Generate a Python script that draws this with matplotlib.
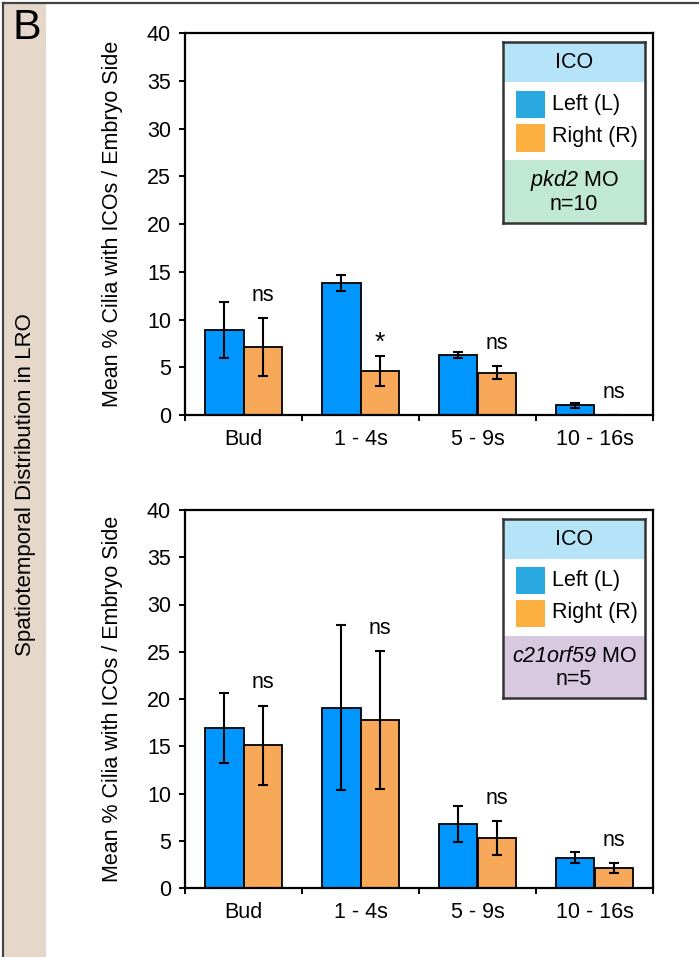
import numpy as np
import matplotlib
matplotlib.use('Agg')
import matplotlib.pyplot as plt
from matplotlib.patches import Rectangle
from matplotlib.lines import Line2D

plt.rcParams['font.family'] = ['Liberation Sans', 'DejaVu Sans']
# italic gene names: mathrm mapped to the italic face so digits slant too
plt.rcParams['mathtext.fontset'] = 'custom'
plt.rcParams['mathtext.rm'] = 'Liberation Sans:italic'
plt.rcParams['mathtext.it'] = 'Liberation Sans:italic'

# data
categories = ['Bud', '1 - 4s', '5 - 9s', '10 - 16s']

pkd2_left = [8.9, 13.8, 6.25, 1.0]
pkd2_left_err = [2.95, 0.85, 0.3, 0.3]
pkd2_right = [7.1, 4.6, 4.45, 0.0]
pkd2_right_err = [3.05, 1.6, 0.65, 0.0]
pkd2_sig = ['ns', '*', 'ns', 'ns']

c21_left = [16.9, 19.1, 6.8, 3.2]
c21_left_err = [3.7, 8.7, 1.9, 0.6]
c21_right = [15.1, 17.8, 5.3, 2.1]
c21_right_err = [4.2, 7.3, 1.8, 0.5]
c21_sig = ['ns', 'ns', 'ns', 'ns']

yticks = [0, 5, 10, 15, 20, 25, 30, 35, 40]

# colours
BAR_BLUE = '#0096FF'
BAR_ORANGE = '#F7A859'
LEG_BLUE = '#29A9E0'
LEG_ORANGE = '#FBB040'
HEAD = '#B5E4F8'
GREEN = '#C0E8D5'
PURPLE = '#D8C8E0'
BAND = '#E5D8CA'

FS = 15.5

W, H = 699, 957
fig = plt.figure(figsize=(W / 100, H / 100), dpi=100)

# left band + frame
fig.add_artist(Rectangle((4 / W, 0), 42 / W, 1 - 4 / H, transform=fig.transFigure,
                         facecolor=BAND, edgecolor='none', zorder=0))
fig.add_artist(Line2D([3 / W, 3 / W], [0, 1 - 3 / H], transform=fig.transFigure,
                      color='#444444', lw=1.6))
fig.add_artist(Line2D([3 / W, 1], [1 - 3 / H, 1 - 3 / H], transform=fig.transFigure,
                      color='#444444', lw=1.6))
fig.text(26 / W, 1 - 485 / H, 'Spatiotemporal Distribution in LRO', rotation=90,
         ha='center', va='center', fontsize=16)
fig.text(12 / W, 1 - 28 / H, 'B', ha='left', va='center', fontsize=31)


def panel(ax, left, left_err, right, right_err, sig, label_text, label_color):
    x = np.arange(len(categories))
    bw = 0.325
    ax.bar(x - bw / 2, left, bw, color=BAR_BLUE, edgecolor='black', linewidth=1.3, zorder=2)
    ax.bar(x + bw / 2, right, bw, color=BAR_ORANGE, edgecolor='black', linewidth=1.3, zorder=2)
    ax.errorbar(x - bw / 2, left, yerr=left_err, fmt='none', ecolor='black',
                elinewidth=1.5, capsize=3.5, capthick=1.5, zorder=3)
    ax.errorbar(x + bw / 2, right, yerr=right_err, fmt='none', ecolor='black',
                elinewidth=1.5, capsize=3.5, capthick=1.5, zorder=3)
    offs = {'ns': 2.4, '*': 1.4}
    for i, s in enumerate(sig):
        ax.text(x[i] + bw / 2, right[i] + right_err[i] + offs[s], s,
                ha='center', va='center', fontsize=FS if s == 'ns' else 19)

    ax.set_xlim(-0.5, len(categories) - 0.5)
    ax.set_ylim(0, 40)
    ax.set_yticks(yticks)
    ax.set_xticks(np.arange(len(categories) + 1) - 0.5)
    ax.set_xticklabels([])
    ax.set_xticks(x, minor=True)
    ax.set_xticklabels(categories, minor=True)
    ax.tick_params(axis='both', which='major', direction='out', length=4, width=1.4,
                   labelsize=FS, pad=6)
    ax.tick_params(axis='x', which='minor', length=0, labelsize=FS, pad=10)
    for sp in ax.spines.values():
        sp.set_linewidth(1.6)
    ax.set_ylabel('Mean % Cilia with ICOs / Embryo Side', fontsize=FS, va='center')
    ax.yaxis.set_label_coords(-0.154, 0.5)

    # legend box
    lg = ax.inset_axes([0.6795, 0.5035, 0.3035, 0.472])
    lg.set_xlim(0, 1)
    lg.set_ylim(0, 1)
    lg.set_xticks([])
    lg.set_yticks([])
    lg.add_patch(Rectangle((0, 0.78), 1, 0.22, facecolor=HEAD, edgecolor='none'))
    lg.add_patch(Rectangle((0, 0.348), 1, 0.432, facecolor='white', edgecolor='none'))
    lg.add_patch(Rectangle((0, 0), 1, 0.348, facecolor=label_color, edgecolor='none'))
    lg.add_patch(Rectangle((0.092, 0.58), 0.204, 0.152, facecolor=LEG_BLUE, edgecolor='none'))
    lg.add_patch(Rectangle((0.092, 0.394), 0.204, 0.154, facecolor=LEG_ORANGE, edgecolor='none'))
    lg.text(0.5, 0.887, 'ICO', ha='center', va='center', fontsize=FS)
    lg.text(0.345, 0.654, 'Left (L)', ha='left', va='center', fontsize=FS)
    lg.text(0.345, 0.478, 'Right (R)', ha='left', va='center', fontsize=FS)
    lg.text(0.5, 0.232, label_text[0], ha='center', va='center', fontsize=FS)
    lg.text(0.5, 0.103, label_text[1], ha='center', va='center', fontsize=FS)
    for sp in lg.spines.values():
        sp.set_linewidth(1.8)
        sp.set_color('#333333')
    lg.set_zorder(5)


ax1 = fig.add_axes([185 / W, 1 - 415 / H, 468 / W, 382 / H])
panel(ax1, pkd2_left, pkd2_left_err, pkd2_right, pkd2_right_err, pkd2_sig,
      [r'$\mathrm{pkd2}$ MO', 'n=10'], GREEN)

ax2 = fig.add_axes([185 / W, 1 - 888 / H, 468 / W, 378 / H])
panel(ax2, c21_left, c21_left_err, c21_right, c21_right_err, c21_sig,
      [r'$\mathrm{c21orf59}$ MO', 'n=5'], PURPLE)

fig.savefig('out.png', dpi=100)
